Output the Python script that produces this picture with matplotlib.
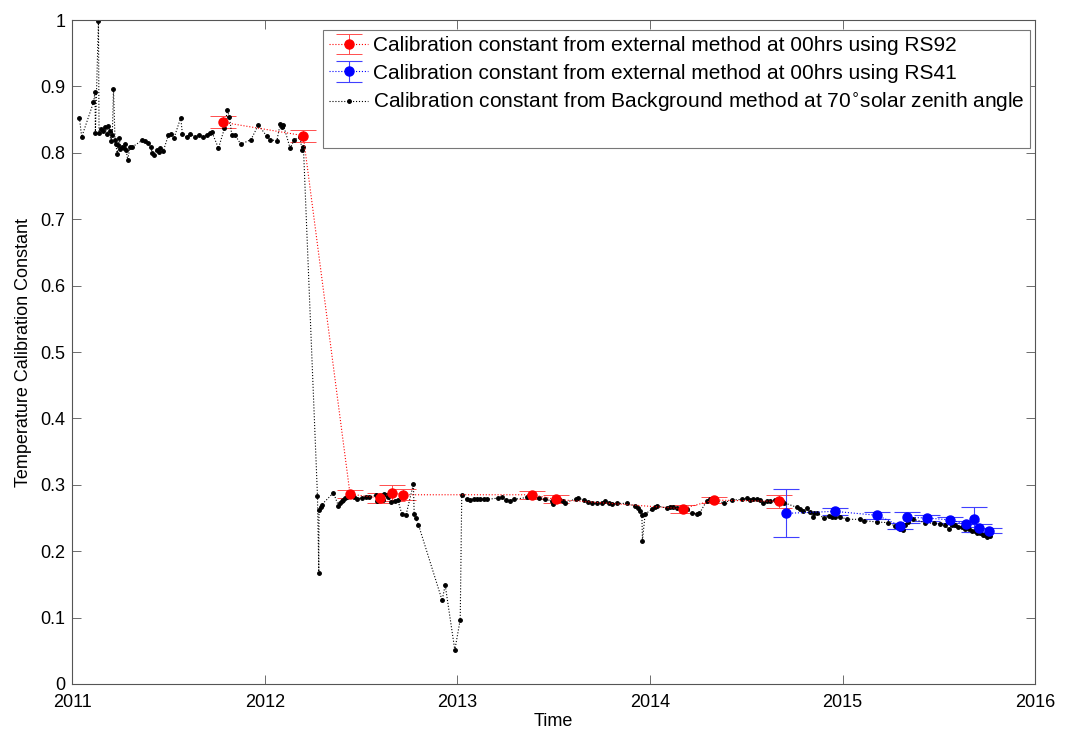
import matplotlib
matplotlib.use('Agg')
import matplotlib.pyplot as plt
import matplotlib.ticker as mticker
from matplotlib.lines import Line2D

plt.rcParams['font.family'] = ['Liberation Sans', 'DejaVu Sans']

# external method, RS92 (red)
rs92_t = [2011.784, 2012.200, 2012.443, 2012.600, 2012.660, 2012.720,
          2013.390, 2013.510, 2014.170, 2014.330, 2014.670]
rs92_v = [0.846, 0.826, 0.286, 0.280, 0.288, 0.285,
          0.285, 0.278, 0.264, 0.277, 0.275]
rs92_e = [0.009, 0.009, 0.006, 0.008, 0.012, 0.008,
          0.006, 0.006, 0.006, 0.005, 0.010]

# external method, RS41 (blue)
rs41_t = [2014.707, 2014.960, 2015.180, 2015.300, 2015.335, 2015.440,
          2015.560, 2015.640, 2015.680, 2015.710, 2015.760]
rs41_v = [0.257, 0.260, 0.254, 0.238, 0.251, 0.250,
          0.247, 0.241, 0.248, 0.235, 0.231]
rs41_e = [0.036, 0.005, 0.005, 0.005, 0.008, 0.005,
          0.004, 0.004, 0.019, 0.006, 0.004]

# background method at 70 deg solar zenith angle (black)
bg_t = [2011.038, 2011.050, 2011.111, 2011.119, 2011.121, 2011.137, 2011.140,
        2011.150, 2011.160, 2011.171, 2011.180, 2011.189, 2011.197, 2011.200,
        2011.209, 2011.215, 2011.223, 2011.227, 2011.235, 2011.240, 2011.246,
        2011.250, 2011.258, 2011.267, 2011.275, 2011.280, 2011.289, 2011.301,
        2011.313, 2011.365, 2011.379, 2011.396, 2011.408, 2011.417, 2011.426,
        2011.440, 2011.450, 2011.457, 2011.474, 2011.500, 2011.514, 2011.530,
        2011.564, 2011.573, 2011.595, 2011.613, 2011.639, 2011.659, 2011.682,
        2011.699, 2011.717, 2011.725, 2011.760, 2011.791, 2011.806, 2011.817,
        2011.829, 2011.846, 2011.876, 2011.929, 2011.967, 2012.011, 2012.028,
        2012.063, 2012.080, 2012.089, 2012.097, 2012.132, 2012.154, 2012.184,
        2012.193, 2012.201,
        2012.274, 2012.281, 2012.282, 2012.291, 2012.296, 2012.357, 2012.383,
        2012.391, 2012.400, 2012.409, 2012.417, 2012.426, 2012.443, 2012.461,
        2012.481, 2012.504, 2012.526, 2012.539, 2012.578, 2012.585, 2012.594,
        2012.600, 2012.608, 2012.615, 2012.620, 2012.634, 2012.642, 2012.655,
        2012.677, 2012.691, 2012.712, 2012.734, 2012.772, 2012.776, 2012.784,
        2012.798, 2012.921, 2012.937, 2012.987, 2013.015, 2013.023,
        2013.049, 2013.066, 2013.084, 2013.101, 2013.118, 2013.136, 2013.153,
        2013.213, 2013.231, 2013.253, 2013.274, 2013.295, 2013.361, 2013.374,
        2013.392, 2013.426, 2013.456, 2013.491, 2013.499, 2013.517, 2013.534,
        2013.551, 2013.560, 2013.617, 2013.629, 2013.655, 2013.676, 2013.698,
        2013.724, 2013.750, 2013.767, 2013.785, 2013.802, 2013.828, 2013.880,
        2013.923, 2013.940, 2013.949, 2013.958, 2013.961, 2013.975, 2014.010,
        2014.027, 2014.039, 2014.088, 2014.105, 2014.122, 2014.140, 2014.192,
        2014.218, 2014.243, 2014.257, 2014.295, 2014.313, 2014.339, 2014.382,
        2014.425, 2014.477, 2014.506, 2014.520, 2014.537, 2014.555, 2014.572,
        2014.589, 2014.607, 2014.624, 2014.650, 2014.685, 2014.697, 2014.763,
        2014.780, 2014.797, 2014.815, 2014.832, 2014.846, 2014.853, 2014.867,
        2014.901, 2014.927, 2014.945, 2014.962, 2014.988, 2015.022, 2015.091,
        2015.109, 2015.178, 2015.235, 2015.273, 2015.299, 2015.313, 2015.325,
        2015.342, 2015.368, 2015.429, 2015.472, 2015.507, 2015.533, 2015.550,
        2015.568, 2015.585, 2015.600, 2015.620, 2015.635, 2015.654, 2015.670,
        2015.689, 2015.700, 2015.715, 2015.728, 2015.741, 2015.752, 2015.763]
bg_v = [0.853, 0.824, 0.876, 0.891, 0.830, 0.998, 0.830,
        0.836, 0.833, 0.839, 0.828, 0.840, 0.833, 0.818,
        0.827, 0.896, 0.819, 0.813, 0.798, 0.812, 0.823,
        0.806, 0.809, 0.807, 0.813, 0.805, 0.790, 0.809,
        0.809, 0.819, 0.818, 0.815, 0.809, 0.800, 0.797,
        0.804, 0.801, 0.807, 0.803, 0.827, 0.829, 0.823,
        0.853, 0.828, 0.824, 0.829, 0.824, 0.827, 0.824,
        0.827, 0.830, 0.832, 0.807, 0.837, 0.864, 0.854,
        0.827, 0.827, 0.813, 0.820, 0.842, 0.825, 0.820,
        0.818, 0.843, 0.839, 0.842, 0.807, 0.820, 0.824,
        0.804, 0.809,
        0.283, 0.167, 0.262, 0.266, 0.270, 0.288, 0.268,
        0.272, 0.275, 0.277, 0.280, 0.282, 0.283, 0.281,
        0.279, 0.280, 0.281, 0.282, 0.284, 0.276, 0.278,
        0.283, 0.281, 0.277, 0.286, 0.285, 0.281, 0.274,
        0.276, 0.277, 0.256, 0.255, 0.301, 0.256, 0.250,
        0.240, 0.126, 0.149, 0.051, 0.097, 0.285,
        0.278, 0.277, 0.278, 0.279, 0.279, 0.279, 0.278,
        0.280, 0.281, 0.277, 0.276, 0.278, 0.281, 0.283,
        0.281, 0.280, 0.278, 0.276, 0.271, 0.278, 0.277,
        0.275, 0.273, 0.279, 0.280, 0.277, 0.274, 0.272,
        0.272, 0.273, 0.275, 0.272, 0.271, 0.272, 0.272,
        0.268, 0.265, 0.261, 0.255, 0.216, 0.256, 0.263,
        0.266, 0.268, 0.265, 0.266, 0.266, 0.265, 0.263,
        0.258, 0.256, 0.257, 0.276, 0.278, 0.276, 0.273,
        0.277, 0.278, 0.280, 0.277, 0.278, 0.279, 0.277,
        0.272, 0.275, 0.276, 0.277, 0.275, 0.273, 0.266,
        0.263, 0.261, 0.265, 0.259, 0.252, 0.257, 0.258,
        0.250, 0.253, 0.252, 0.251, 0.252, 0.248, 0.248,
        0.246, 0.244, 0.243, 0.238, 0.234, 0.232, 0.239,
        0.244, 0.248, 0.243, 0.242, 0.241, 0.239, 0.233,
        0.239, 0.240, 0.236, 0.237, 0.233, 0.234, 0.230,
        0.231, 0.227, 0.228, 0.224, 0.225, 0.222, 0.223]

year_ticks = [2011, 2012, 2013, 2014, 2015, 2016]

labels = ['Calibration constant from external method at 00hrs using RS92',
          'Calibration constant from external method at 00hrs using RS41',
          r'Calibration constant from Background method at 70$^{\circ}$solar zenith angle']

fig = plt.figure(figsize=(10.92, 7.36), dpi=100)
ax = fig.add_axes([0.066, 0.0707, 0.882, 0.902])

h1 = ax.errorbar(rs92_t, rs92_v, yerr=rs92_e, fmt='o:', color='red', ms=6.5,
                 lw=0.8, elinewidth=0.7, capsize=9.5, capthick=0.7,
                 ecolor=(1, 0.3, 0.3))
h2 = ax.errorbar(rs41_t, rs41_v, yerr=rs41_e, fmt='o:', color='blue', ms=6.5,
                 lw=0.8, elinewidth=0.8, capsize=9.5, capthick=0.8,
                 ecolor=(0.25, 0.25, 1))
h3, = ax.plot(bg_t, bg_v, 'k:', marker='.', ms=5, lw=0.8)

ax.set_xlim(2011, 2016)
ax.set_ylim(0, 1)
ax.set_xticks(year_ticks)
ax.set_yticks([i / 10 for i in range(11)])
ax.yaxis.set_major_formatter(mticker.FormatStrFormatter('%g'))
ax.xaxis.set_major_formatter(mticker.FormatStrFormatter('%d'))
ax.tick_params(direction='in', length=6.5, width=0.6, color='#555555',
               labelsize=13, top=True, right=True)
ax.tick_params(axis='x', pad=7)
ax.tick_params(axis='y', pad=5)
for s in ax.spines.values():
    s.set_color('#555555')
    s.set_linewidth(0.8)

ax.set_xlabel('Time', fontsize=13, labelpad=2)
ax.set_ylabel('Temperature Calibration Constant', fontsize=13, labelpad=6)

blank = Line2D([], [], color='none')
leg = ax.legend([h1, h2, h3, blank], labels + [''], loc='upper right',
                bbox_to_anchor=(0.995, 0.985), fontsize=15, frameon=True,
                fancybox=False, framealpha=1, edgecolor='#777777',
                handlelength=1.9, handletextpad=0.2, borderpad=0.3,
                labelspacing=0.4, borderaxespad=0)
leg.get_frame().set_linewidth(0.8)

fig.savefig('out.png', dpi=100)
